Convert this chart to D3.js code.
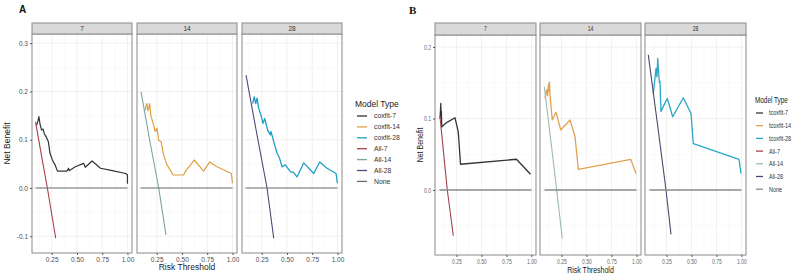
<!DOCTYPE html>
<html>
<head>
<meta charset="utf-8">
<script src="https://cdn.jsdelivr.net/npm/d3@7"></script>
<style>
body { margin: 0; background: #fff; }
svg { display: block; font-family: "Liberation Sans", Arial, sans-serif; }
</style>
</head>
<body>
<div id="chart"></div>
<script>
// ---- data ----
const facetLabels = ["7", "14", "28"];
const thresholdTicks = [0.25, 0.5, 0.75, 1.0];
const legendLabelsA = ["coxfit-7", "coxfit-14", "coxfit-28", "All-7", "All-14", "All-28", "None"];
const legendLabelsB = ["tcoxfit-7", "tcoxfit-14", "tcoxfit-28", "All-7", "All-14", "All-28", "None"];
const yTicksA = [-0.1, 0.0, 0.1, 0.2, 0.3];
const yTicksB = [0.0, 0.1, 0.2];

// panel A: [threshold, net benefit]
const coxfit7 = [[0.10,0.130],[0.115,0.140],[0.123,0.148],[0.135,0.132],[0.15,0.120],[0.165,0.122],[0.177,0.112],
  [0.19,0.108],[0.20,0.104],[0.217,0.096],[0.233,0.072],[0.257,0.058],[0.283,0.048],[0.307,0.035],[0.40,0.035],
  [0.417,0.041],[0.423,0.036],[0.483,0.044],[0.567,0.051],[0.583,0.043],[0.65,0.056],[0.733,0.041],[0.85,0.036],
  [0.983,0.030],[1.0,0.027],[1.0,0.009]];
const coxfit14 = [[0.137,0.161],[0.146,0.172],[0.154,0.175],[0.163,0.160],[0.171,0.165],[0.181,0.175],[0.192,0.150],
  [0.204,0.141],[0.220,0.130],[0.236,0.117],[0.253,0.124],[0.270,0.099],[0.293,0.096],[0.319,0.068],[0.352,0.048],
  [0.385,0.037],[0.411,0.027],[0.517,0.027],[0.530,0.033],[0.543,0.037],[0.622,0.058],[0.715,0.035],[0.775,0.054],
  [0.847,0.044],[0.989,0.030],[1.0,0.010]];
const coxfit28 = [[0.161,0.175],[0.177,0.189],[0.191,0.175],[0.204,0.186],[0.220,0.165],[0.243,0.151],[0.263,0.134],
  [0.280,0.144],[0.309,0.120],[0.335,0.110],[0.342,0.117],[0.369,0.096],[0.402,0.072],[0.428,0.061],[0.451,0.044],
  [0.484,0.048],[0.533,0.034],[0.567,0.032],[0.599,0.023],[0.666,0.052],[0.765,0.030],[0.824,0.054],[0.897,0.041],
  [0.986,0.030],[1.0,0.010]];
const all7A = [[0.09,0.137],[0.15,0.066],[0.207,0.0],[0.29,-0.104]];
const all14A = [[0.095,0.199],[0.18,0.100],[0.27,0.0],[0.342,-0.097]];
const all28A = [[0.095,0.234],[0.20,0.114],[0.303,0.0],[0.369,-0.104]];
const noneA = [[0.09,0],[1.0,0]];

// panel B
const tcoxfit7 = [[0.085,0.100],[0.090,0.112],[0.093,0.121],[0.096,0.104],[0.099,0.110],[0.102,0.088],[0.13,0.092],
  [0.16,0.095],[0.235,0.101],[0.265,0.083],[0.27,0.077],[0.29,0.036],[0.85,0.043],[0.99,0.022]];
const tcoxfit14 = [[0.085,0.128],[0.10,0.140],[0.11,0.132],[0.12,0.148],[0.125,0.138],[0.13,0.151],[0.135,0.133],
  [0.14,0.125],[0.15,0.110],[0.158,0.098],[0.195,0.109],[0.242,0.084],[0.335,0.098],[0.385,0.075],[0.418,0.029],
  [0.942,0.043],[0.995,0.023]];
const tcoxfit28 = [[0.118,0.135],[0.13,0.150],[0.145,0.170],[0.155,0.158],[0.162,0.184],[0.167,0.172],[0.172,0.165],
  [0.178,0.151],[0.185,0.152],[0.195,0.110],[0.218,0.117],[0.258,0.128],[0.312,0.1025],[0.418,0.129],[0.495,0.107],
  [0.518,0.065],[0.975,0.043],[0.995,0.023]];
const all7B = [[0.085,0.1025],[0.12,0.053],[0.158,0.0],[0.218,-0.064]];
const all14B = [[0.078,0.1445],[0.14,0.073],[0.202,0.0],[0.258,-0.068]];
const all28B = [[0.068,0.189],[0.16,0.092],[0.245,0.0],[0.295,-0.062]];
const noneB = [[0.08,0],[1.0,0]];

const svg = d3.select("#chart").append("svg")
    .attr("width", 798)
    .attr("height", 277);

function drawPanel(p) {
    const y = d3.scaleLinear().domain(p.yDomain).range([p.bottom, p.top]);
    const root = svg.append("g");

    // panel tag (kept out of root so it is not condensed)
    svg.append("text")
        .attr("x", p.tag.x).attr("y", p.tag.y)
        .style("font-family", p.tag.font)
        .style("font-size", p.tag.size + "px")
        .style("font-weight", "bold")
        .attr("fill", "#111")
        .text(p.tag.text);

    p.facets.forEach((f, i) => {
        const left = p.left + i * (p.width + p.gap);
        const x = d3.scaleLinear().domain(p.xDomain).range([left, left + p.width]);
        const g = root.append("g");

        // minor grid
        g.selectAll(".vminor").data(p.xMinor).enter().append("line")
            .attr("x1", d => x(d)).attr("x2", d => x(d))
            .attr("y1", p.top).attr("y2", p.bottom)
            .attr("stroke", "#f3f3f3").attr("stroke-width", 0.5);
        g.selectAll(".hminor").data(p.yMinor).enter().append("line")
            .attr("x1", left).attr("x2", left + p.width)
            .attr("y1", d => y(d)).attr("y2", d => y(d))
            .attr("stroke", "#f3f3f3").attr("stroke-width", 0.5);
        // major grid
        g.selectAll(".vmajor").data(thresholdTicks).enter().append("line")
            .attr("x1", d => x(d)).attr("x2", d => x(d))
            .attr("y1", p.top).attr("y2", p.bottom)
            .attr("stroke", "#ebebeb").attr("stroke-width", 0.7);
        g.selectAll(".hmajor").data(p.yTicks).enter().append("line")
            .attr("x1", left).attr("x2", left + p.width)
            .attr("y1", d => y(d)).attr("y2", d => y(d))
            .attr("stroke", "#ebebeb").attr("stroke-width", 0.7);

        const line = d3.line().x(d => x(d[0])).y(d => y(d[1]));

        f.series.forEach(s => {
            g.append("path")
                .datum(s.values)
                .attr("d", line)
                .attr("fill", "none")
                .attr("stroke", s.color)
                .attr("stroke-width", s.width)
                .attr("stroke-linejoin", "round");
        });

        // panel border
        g.append("rect")
            .attr("x", left).attr("y", p.top)
            .attr("width", p.width).attr("height", p.bottom - p.top)
            .attr("fill", "none").attr("stroke", "#8a8a8a").attr("stroke-width", 1);

        // strip
        g.append("rect")
            .attr("x", left).attr("y", p.stripTop)
            .attr("width", p.width).attr("height", p.top - p.stripTop)
            .attr("fill", "#d9d9d9").attr("stroke", "#8a8a8a").attr("stroke-width", 1);
        g.append("text")
            .attr("x", left + p.width / 2).attr("y", (p.top + p.stripTop) / 2)
            .attr("dy", "0.35em")
            .attr("text-anchor", "middle")
            .style("font-size", "6.5px")
            .attr("fill", "#333")
            .text(facetLabels[i]);

        // x axis
        const xAxis = g.append("g")
            .attr("transform", `translate(0,${p.bottom})`)
            .call(d3.axisBottom(x).tickValues(thresholdTicks).tickFormat(d3.format(".2f")).tickSize(2).tickPadding(2));
        xAxis.select(".domain").remove();
        xAxis.selectAll("line").attr("stroke", "#555");
        xAxis.selectAll("text")
            .style("font-size", p.tickSize + "px")
            .attr("fill", p.tickColor);

        if (i === 0) {
            const yAxis = g.append("g")
                .attr("transform", `translate(${left},0)`)
                .call(d3.axisLeft(y).tickValues(p.yTicks).tickFormat(d => d.toFixed(1)).tickSize(2).tickPadding(2));
            yAxis.select(".domain").remove();
            yAxis.selectAll("line").attr("stroke", "#555");
            yAxis.selectAll("text")
                .style("font-size", p.tickSize + "px")
                .attr("fill", p.tickColor);
        }
    });

    // axis titles
    const midX = p.left + (3 * p.width + 2 * p.gap) / 2;
    root.append("text")
        .attr("x", midX).attr("y", p.xTitleY)
        .attr("text-anchor", "middle")
        .style("font-size", p.titleSize + "px")
        .attr("fill", "#222")
        .text("Risk Threshold");
    root.append("text")
        .attr("transform", `translate(${p.yTitleX},${(p.top + p.bottom) / 2}) rotate(-90)`)
        .attr("text-anchor", "middle")
        .style("font-size", p.titleSize + "px")
        .attr("fill", "#222")
        .text("Net Benefit");

    // legend
    const lg = root.append("g").attr("transform", `translate(${p.legend.x},${p.legend.y})`);
    lg.append("text")
        .attr("x", 0).attr("y", 0)
        .attr("dy", "0.35em")
        .style("font-size", p.legend.titleSize + "px")
        .attr("fill", "#222")
        .text("Model Type");
    const items = lg.selectAll(".item")
        .data(p.legend.labels)
        .enter().append("g")
        .attr("transform", (d, i) => `translate(0,${p.legend.first + i * p.legend.step})`);
    items.append("line")
        .attr("x1", p.legend.keyX).attr("x2", p.legend.keyX + p.legend.keyW)
        .attr("stroke", (d, i) => p.legend.colors[i])
        .attr("stroke-width", 1.3);
    items.append("text")
        .attr("x", p.legend.textX)
        .attr("dy", "0.35em")
        .style("font-size", p.legend.itemSize + "px")
        .attr("fill", "#333")
        .text(d => d);

    // all texts of the panel share one family; panel B is drawn with a narrower face
    root.selectAll("text").attr("font-family", null).style("font-family", p.font);
    if (p.condense) {
        root.selectAll("text").each(function () {
            const len = this.getComputedTextLength();
            d3.select(this)
                .attr("textLength", len * p.condense)
                .attr("lengthAdjust", "spacingAndGlyphs");
        });
    }
}

const colA = ["#2f3436", "#e0a040", "#1f9ec6", "#a8404a", "#7da39f", "#4a4a78", "#6e6e6e"];
const colB = ["#2f3436", "#e0a252", "#2aa7c6", "#a0434c", "#9bbbb6", "#4a4870", "#8c8c8c"];

drawPanel({
    tag: { text: "A", x: 19, y: 13, size: 10, font: "'Liberation Sans', Arial, sans-serif" },
    font: "'Liberation Sans', Arial, sans-serif",
    left: 32, width: 100, gap: 5,
    top: 34, bottom: 253, stripTop: 23,
    xDomain: [0.055, 1.045],
    yDomain: [-0.1346, 0.319],
    yTicks: yTicksA,
    xMinor: [0.125, 0.375, 0.625, 0.875],
    yMinor: [-0.05, 0.05, 0.15, 0.25],
    tickSize: 6.5, tickColor: "#4d4d4d", titleSize: 8.5,
    xTitleY: 270, yTitleX: 10,
    facets: [
        { series: [
            { values: coxfit7, color: colA[0], width: 1.2 },
            { values: all7A, color: colA[3], width: 1.1 },
            { values: noneA, color: colA[6], width: 1.1 } ] },
        { series: [
            { values: coxfit14, color: colA[1], width: 1.2 },
            { values: all14A, color: colA[4], width: 1.1 },
            { values: noneA, color: colA[6], width: 1.1 } ] },
        { series: [
            { values: coxfit28, color: colA[2], width: 1.3 },
            { values: all28A, color: colA[5], width: 1.1 },
            { values: noneA, color: colA[6], width: 1.1 } ] }
    ],
    legend: { x: 355, y: 104, labels: legendLabelsA, colors: colA,
              first: 12, step: 10.9, keyX: 2, keyW: 10, textX: 19,
              titleSize: 8.5, itemSize: 6.8 }
});

drawPanel({
    tag: { text: "B", x: 409, y: 14, size: 11, font: "'Liberation Serif', 'Times New Roman', serif" },
    font: "'Liberation Sans', Arial, sans-serif",
    condense: 0.78,
    left: 435, width: 101, gap: 4,
    top: 35, bottom: 255, stripTop: 23,
    xDomain: [0.035, 1.045],
    yDomain: [-0.0909, 0.2168],
    yTicks: yTicksB,
    xMinor: [0.125, 0.375, 0.625, 0.875],
    yMinor: [-0.05, 0.05, 0.15],
    tickSize: 6.5, tickColor: "#6a6a6a", titleSize: 9,
    xTitleY: 273, yTitleX: 423,
    facets: [
        { series: [
            { values: tcoxfit7, color: colB[0], width: 1.3 },
            { values: all7B, color: colB[3], width: 1.1 },
            { values: noneB, color: colB[6], width: 1.5 } ] },
        { series: [
            { values: tcoxfit14, color: colB[1], width: 1.3 },
            { values: all14B, color: colB[4], width: 1.1 },
            { values: noneB, color: colB[6], width: 1.5 } ] },
        { series: [
            { values: tcoxfit28, color: colB[2], width: 1.3 },
            { values: all28B, color: colB[5], width: 1.1 },
            { values: noneB, color: colB[6], width: 1.5 } ] }
    ],
    legend: { x: 755, y: 100, labels: legendLabelsB, colors: colB,
              first: 13, step: 12.7, keyX: 1, keyW: 7, textX: 14,
              titleSize: 8.2, itemSize: 7 }
});
</script>
</body>
</html>
